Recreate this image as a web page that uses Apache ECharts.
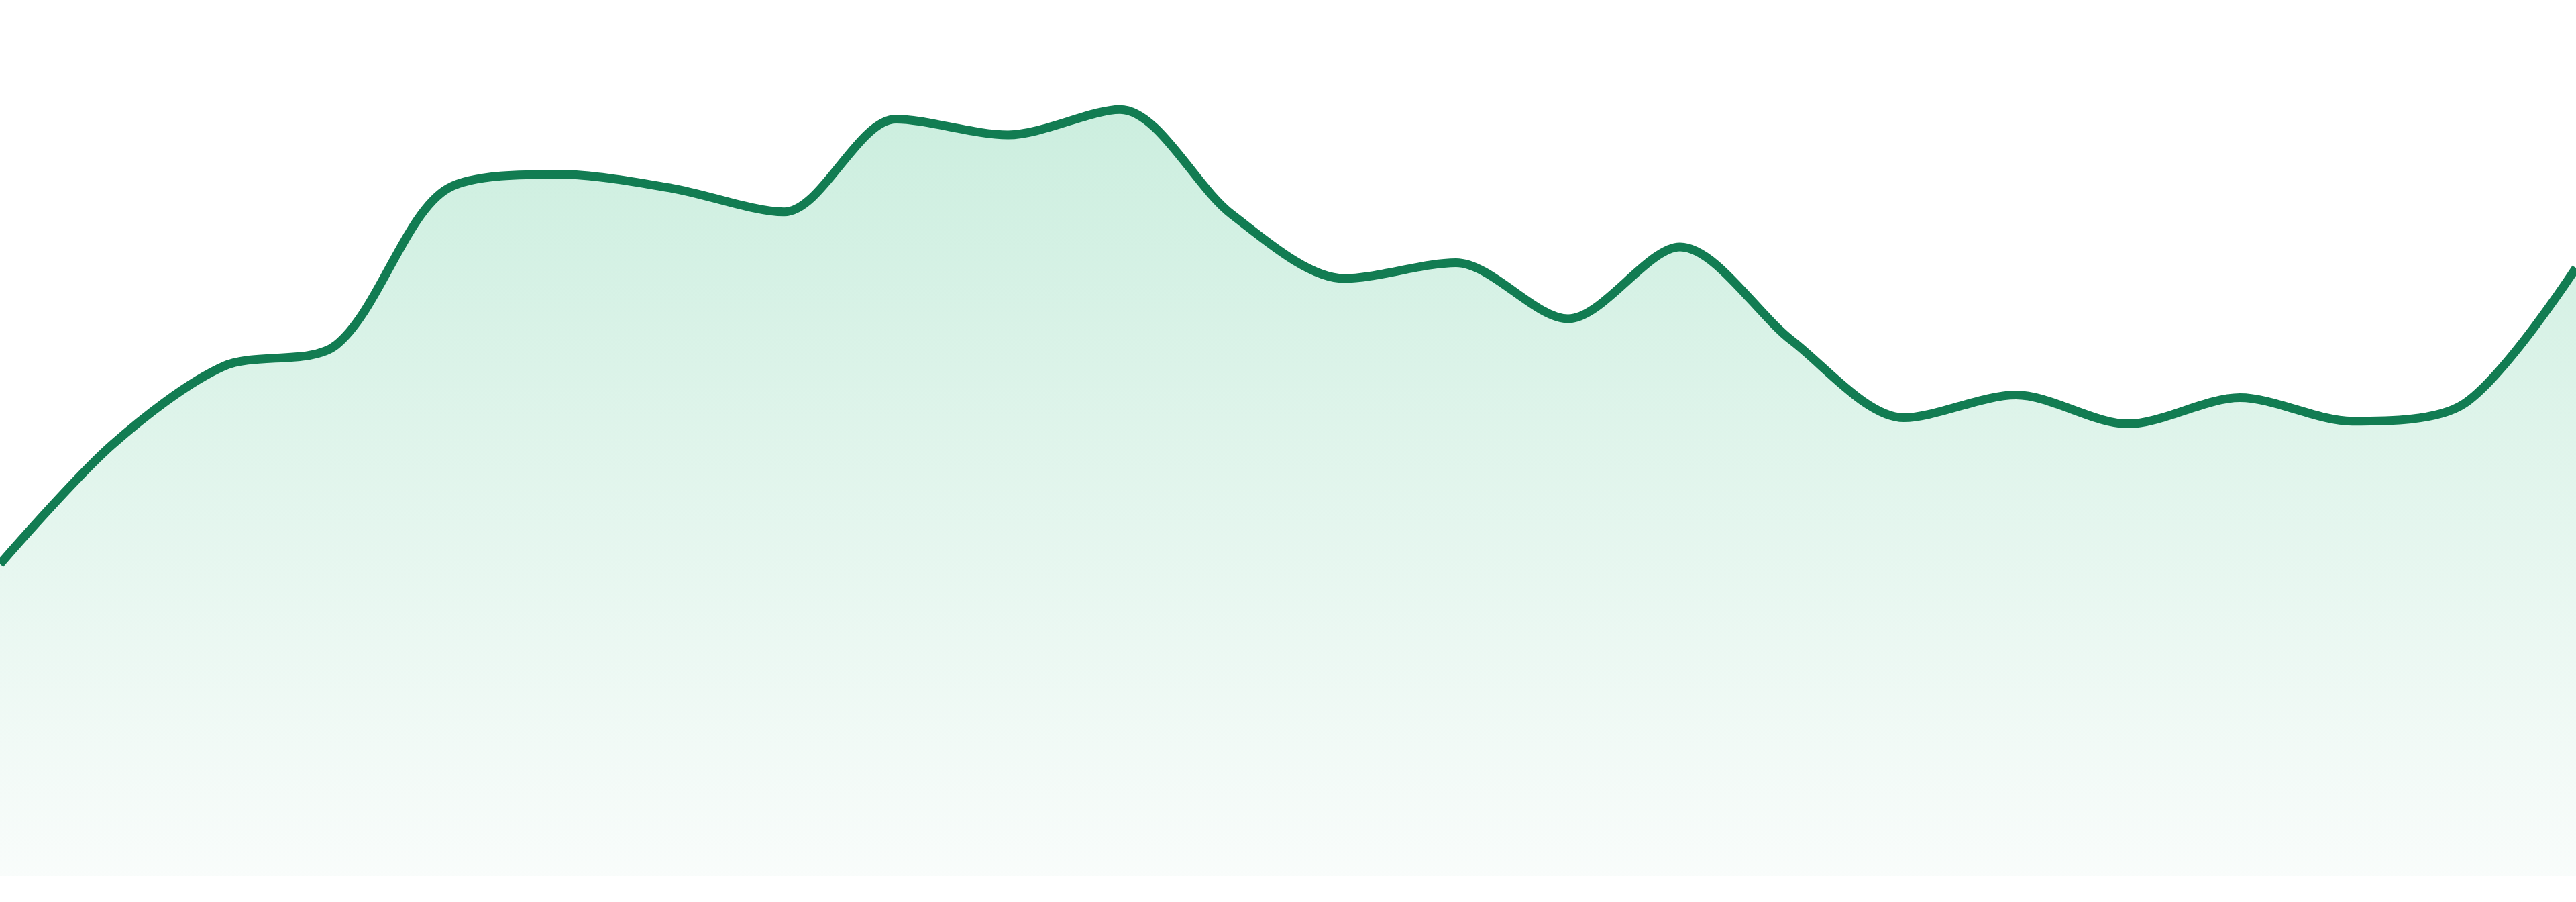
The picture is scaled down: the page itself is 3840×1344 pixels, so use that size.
<!DOCTYPE html>
<html>
<head>
<meta charset="utf-8">
<script src="https://cdn.jsdelivr.net/npm/echarts@6/dist/echarts.min.js"></script>
<style>
html,body{margin:0;padding:0;background:#ffffff;}
#chart{width:3840px;height:1344px;}
</style>
</head>
<body>
<div id="chart"></div>
<script>
const categories = ['1','2','3','4','5','6','7','8','9','10','11','12','13','14','15','16','17','18','19','20','21','22','23','24'];
const values = [35.6, 49.2, 58.2, 60.6, 78.5, 80.1, 78.5, 75.8, 86.4, 84.6, 87.5, 75.5, 68.2, 70.0, 63.6, 71.8, 61.1, 52.3, 54.9, 51.6, 54.6, 51.9, 53.9, 69.4];

const chart = echarts.init(document.getElementById('chart'));
chart.setOption({
  animation: false,
  backgroundColor: '#ffffff',
  grid: { left: 0, right: 0, top: 0, bottom: 39, containLabel: false },
  xAxis: {
    type: 'category',
    data: categories,
    boundaryGap: false,
    show: false
  },
  yAxis: {
    type: 'value',
    min: 0,
    max: 100,
    show: false
  },
  series: [{
    type: 'line',
    data: values,
    smooth: 0.3,
    symbol: 'none',
    lineStyle: { color: '#127c52', width: 13 },
    areaStyle: {
      color: new echarts.graphic.LinearGradient(0, 0, 0, 1, [
        { offset: 0, color: '#b6e7d1' },
        { offset: 1, color: '#f6fbf9' }
      ])
    }
  }]
});
</script>
</body>
</html>
